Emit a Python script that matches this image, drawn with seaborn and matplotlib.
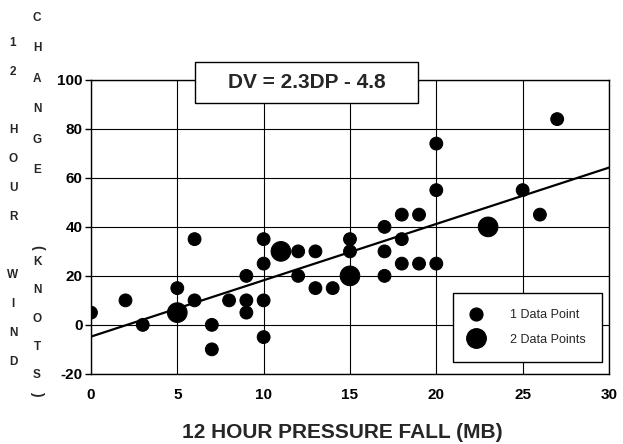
import pandas as pd
import matplotlib.pyplot as plt
import seaborn as sns
import numpy as np
from matplotlib.lines import Line2D
from matplotlib.patches import Rectangle

# Data: pressure fall (mb) vs wind change (knots)
single_fall = [0, 2, 3, 5, 6, 6, 7, 7, 8, 9, 9, 9, 10, 10, 10, 10, 12, 12, 13, 13,
               14, 15, 15, 17, 17, 17, 18, 18, 18, 19, 19, 20, 20, 20, 25, 26, 27]
single_wind = [5, 10, 0, 15, 35, 10, 0, -10, 10, 20, 10, 5, 35, 25, 10, -5, 30, 20, 30, 15,
               15, 35, 30, 40, 30, 20, 45, 35, 25, 45, 25, 74, 55, 25, 55, 45, 84]
double_fall = [5, 11, 15, 23]
double_wind = [5, 30, 20, 40]

# Regression line DV = 2.3DP - 4.8
slope = 2.3
intercept = -4.8
line_x = [0, 30]

x_ticks = [0, 5, 10, 15, 20, 25, 30]
y_ticks = [-20, 0, 20, 40, 60, 80, 100]

df = pd.DataFrame({
    'fall': single_fall + double_fall,
    'wind': single_wind + double_wind,
    'n': [1] * len(single_fall) + [2] * len(double_fall),
})
line_df = pd.DataFrame({'fall': line_x})
line_df['wind'] = slope * line_df['fall'] + intercept

sns.set_theme(style="white")
plt.rcParams['font.family'] = ['Liberation Sans', 'DejaVu Sans']

fig = plt.figure(figsize=(6.23, 4.44), dpi=100)
ax = fig.add_axes([0.146, 0.158, 0.8315, 0.662])

sns.lineplot(data=line_df, x='fall', y='wind', color='black', linewidth=1.6, ax=ax, zorder=3)
sns.scatterplot(data=df, x='fall', y='wind', size='n', sizes={1: 85, 2: 200},
                color='black', edgecolor='black', legend=False, ax=ax, zorder=4)

ax.set_xlim(0, 30)
ax.set_ylim(-20, 100)
ax.set_xticks(x_ticks)
ax.set_yticks(y_ticks)
ax.set_xticklabels([str(t) for t in x_ticks], fontsize=11, fontweight='bold')
ax.set_yticklabels([str(t) for t in y_ticks], fontsize=11, fontweight='bold')
ax.tick_params(axis='x', length=0, pad=10, colors='black')
ax.tick_params(axis='y', direction='out', length=4, width=1, pad=2, colors='black', left=True)
ax.grid(True, color='black', linewidth=0.8)
for s in ax.spines.values():
    s.set_color('black')
    s.set_linewidth(1.0)

ax.set_xlabel('12 HOUR PRESSURE FALL (MB)', fontsize=15, fontweight='bold', va='center')
ax.xaxis.set_label_coords(0.485, -0.2)
ax.set_ylabel('')

# Equation box straddling the top spine
ax.add_patch(Rectangle((0.2008, 0.9218), 0.4305, 0.1395, transform=ax.transAxes,
                       facecolor='white', edgecolor='black', linewidth=1.0,
                       clip_on=False, zorder=6))
ax.text(0.417, 0.992, 'DV = 2.3DP - 4.8', transform=ax.transAxes, ha='center', va='center',
        fontsize=15, fontweight='bold', zorder=7, clip_on=False)

# Legend
handles = [Line2D([], [], marker='o', linestyle='none', color='black', markersize=9.2),
           Line2D([], [], marker='o', linestyle='none', color='black', markersize=14)]
leg = ax.legend(handles, ['1 Data Point', '2 Data Points'], loc='lower right',
                bbox_to_anchor=(0.986, 0.041), fontsize=9, frameon=True, fancybox=False,
                edgecolor='black', framealpha=1, borderpad=1.3, labelspacing=1.0,
                handlelength=1.0, handletextpad=2.2, borderaxespad=0)
leg.get_frame().set_linewidth(1.0)
leg.set_zorder(8)

# Y-axis title stacked letter by letter in two columns
col1 = ['1', '2', '', 'H', 'O', 'U', 'R', '', 'W', 'I', 'N', 'D']
for i, ch in enumerate(col1):
    fig.text(13 / 623, 1 - (43 + i * 29) / 444, ch, ha='center', va='center',
             fontsize=8.5, fontweight='bold')
for i, ch in enumerate('CHANGE'):
    fig.text(37 / 623, 1 - (18 + i * 30.4) / 444, ch, ha='center', va='center',
             fontsize=8.5, fontweight='bold')
fig.text(37 / 623, 1 - 247 / 444, '(', ha='center', va='center', fontsize=10,
         fontweight='bold', rotation=-90)
for i, ch in enumerate('KNOTS'):
    fig.text(37 / 623, 1 - (262 + i * 28.3) / 444, ch, ha='center', va='center',
             fontsize=8.5, fontweight='bold')
fig.text(37 / 623, 1 - 393 / 444, ')', ha='center', va='center', fontsize=10,
         fontweight='bold', rotation=-90)

plt.savefig("out.png", dpi=100)
